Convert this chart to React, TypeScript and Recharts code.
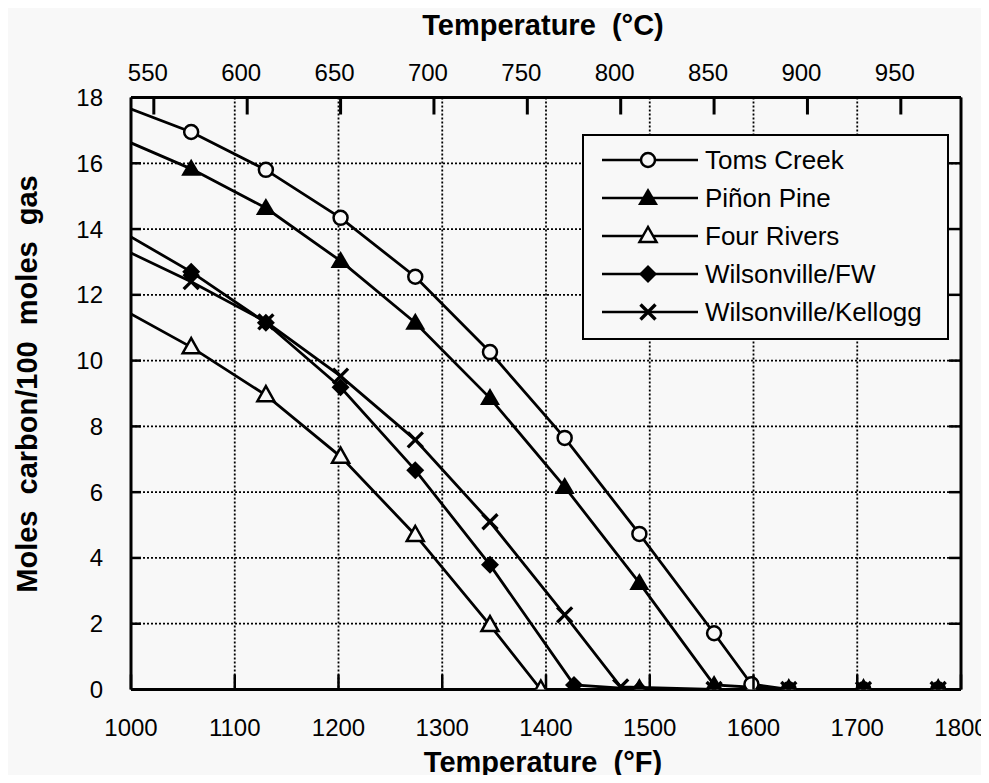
import React from "react";
import { LineChart, Line, XAxis, YAxis, CartesianGrid, Legend } from "recharts";

// axis ticks
const fahrenheitTicks = [1000, 1100, 1200, 1300, 1400, 1500, 1600, 1700, 1800];
const celsiusTicks = [550, 600, 650, 700, 750, 800, 850, 900, 950];
const carbonTicks = [0, 2, 4, 6, 8, 10, 12, 14, 16, 18];

// series: temperature (°F) and moles carbon / 100 moles gas
const tomsCreekTemps = [1000, 1058, 1130, 1202, 1274, 1346, 1418, 1490, 1562, 1598, 1634, 1706, 1778];
const tomsCreekCarbon = [17.65, 16.95, 15.8, 14.34, 12.55, 10.26, 7.65, 4.73, 1.71, 0.16, 0, 0, 0];

const pinonPineTemps = [1000, 1058, 1130, 1202, 1274, 1346, 1418, 1490, 1562, 1634, 1706, 1778];
const pinonPineCarbon = [16.62, 15.83, 14.64, 13.03, 11.15, 8.86, 6.16, 3.24, 0.14, 0, 0, 0];

const fourRiversTemps = [1000, 1058, 1130, 1202, 1274, 1346, 1395, 1490, 1562, 1634, 1706, 1778];
const fourRiversCarbon = [11.42, 10.41, 8.95, 7.08, 4.7, 1.96, 0, 0, 0, 0, 0, 0];

const wilsonvilleFwTemps = [1000, 1058, 1130, 1202, 1274, 1346, 1427, 1490, 1562, 1634, 1706, 1778];
const wilsonvilleFwCarbon = [13.76, 12.7, 11.15, 9.19, 6.67, 3.79, 0.14, 0, 0, 0, 0, 0];

const kelloggTemps = [1000, 1058, 1130, 1202, 1274, 1346, 1418, 1472, 1562, 1634, 1706, 1778];
const kelloggCarbon = [13.27, 12.4, 11.18, 9.53, 7.59, 5.1, 2.27, 0.08, 0, 0, 0, 0];

const BG = "#f8f8f8";
const FONT = "'Liberation Sans', Arial, Helvetica, sans-serif";

type Shape = "circle" | "triFilled" | "triOpen" | "diamond" | "cross";

const series: { name: string; temps: number[]; carbon: number[]; shape: Shape }[] = [
  { name: "Toms Creek", temps: tomsCreekTemps, carbon: tomsCreekCarbon, shape: "circle" },
  { name: "Piñon Pine", temps: pinonPineTemps, carbon: pinonPineCarbon, shape: "triFilled" },
  { name: "Four Rivers", temps: fourRiversTemps, carbon: fourRiversCarbon, shape: "triOpen" },
  { name: "Wilsonville/FW", temps: wilsonvilleFwTemps, carbon: wilsonvilleFwCarbon, shape: "diamond" },
  { name: "Wilsonville/Kellogg", temps: kelloggTemps, carbon: kelloggCarbon, shape: "cross" },
];

const toC = (f: number) => ((f - 32) * 5) / 9;

// the °C axis and the right frame axis need a series bound to them to draw ticks
const celsiusGuide = tomsCreekTemps.map((t, i) => ({ tempC: toC(t), carbon: tomsCreekCarbon[i] }));

function marker(shape: Shape, cx: number, cy: number, key?: string) {
  switch (shape) {
    case "circle":
      return <circle key={key} cx={cx} cy={cy} r={7} fill={BG} stroke="#000" strokeWidth={2.5} />;
    case "triFilled":
      return (
        <polygon key={key} points={`${cx},${cy - 10} ${cx - 10},${cy + 7} ${cx + 10},${cy + 7}`} fill="#000" />
      );
    case "triOpen":
      return (
        <polygon
          key={key}
          points={`${cx},${cy - 9} ${cx - 8.5},${cy + 6} ${cx + 8.5},${cy + 6}`}
          fill={BG}
          stroke="#000"
          strokeWidth={2.5}
        />
      );
    case "diamond":
      return (
        <polygon key={key} points={`${cx},${cy - 9} ${cx + 9},${cy} ${cx},${cy + 9} ${cx - 9},${cy}`} fill="#000" />
      );
    default:
      return (
        <g key={key} stroke="#000" strokeWidth={3.3}>
          <line x1={cx - 7.5} y1={cy - 7.5} x2={cx + 7.5} y2={cy + 7.5} />
          <line x1={cx - 7.5} y1={cy + 7.5} x2={cx + 7.5} y2={cy - 7.5} />
        </g>
      );
  }
}

// first point sits on the left edge of the plot and carries no marker
const dotFor = (shape: Shape, name: string) => (props: any) => {
  const { cx, cy, index } = props;
  if (index === 0 || cx == null || cy == null) return <g key={`${name}-${index}`} />;
  return marker(shape, cx, cy, `${name}-${index}`);
};

const BottomTick = (props: any) => {
  const { x, y, payload } = props;
  return (
    <g>
      <line x1={x} x2={x} y1={y} y2={y - 15} stroke="#000" strokeWidth={2.5} />
      <text x={x} y={y + 46} textAnchor="middle" fontSize={24} fontFamily={FONT} fill="#000">
        {payload.value}
      </text>
    </g>
  );
};

const TopTick = (props: any) => {
  const { x, y, payload } = props;
  return (
    <g>
      <line x1={x} x2={x} y1={y} y2={y + 17} stroke="#000" strokeWidth={3} />
      <text x={x - 6} y={y - 17} textAnchor="middle" fontSize={24} fontFamily={FONT} fill="#000">
        {Math.round(payload.value)}
      </text>
    </g>
  );
};

const LeftTick = (props: any) => {
  const { x, y, payload } = props;
  return (
    <g>
      <line x1={x} x2={x + 10} y1={y} y2={y} stroke="#000" strokeWidth={2.5} />
      <text x={x - 28} y={y + 8.5} textAnchor="end" fontSize={24} fontFamily={FONT} fill="#000">
        {payload.value}
      </text>
    </g>
  );
};

const RightTick = (props: any) => {
  const { x, y } = props;
  return <line x1={x} x2={x - 12} y1={y} y2={y} stroke="#000" strokeWidth={2.5} />;
};

const Title = ({ tx, ty, text, rotate }: { tx: number; ty: number; text: string; rotate?: boolean }) => (
  <text
    x={tx}
    y={ty}
    textAnchor="middle"
    dominantBaseline="central"
    fontSize={29}
    fontWeight="bold"
    fontFamily={FONT}
    fill="#000"
    style={{ whiteSpace: "pre" }}
    transform={rotate ? `rotate(-90, ${tx}, ${ty})` : undefined}
  >
    {text}
  </text>
);

const LegendBox = () => (
  <div
    style={{
      boxSizing: "border-box",
      width: "100%",
      height: "100%",
      border: "2.5px solid #000",
      background: BG,
      padding: "5px 0 0 18px",
    }}
  >
    {series.map((s) => (
      <div key={s.name} style={{ display: "flex", alignItems: "center", height: 38 }}>
        <svg width={96} height={30} style={{ display: "block" }}>
          <line x1={0} x2={96} y1={15} y2={15} stroke="#000" strokeWidth={2.5} />
          {marker(s.shape, 46, 15)}
        </svg>
        <span
          style={{
            marginLeft: 7,
            fontFamily: FONT,
            fontSize: 26,
            color: "#000",
            lineHeight: "30px",
            whiteSpace: "nowrap",
          }}
        >
          {s.name}
        </span>
      </div>
    ))}
  </div>
);

export default function App() {
  return (
    <div style={{ margin: -8, width: 989, height: 783, background: BG, position: "relative", overflow: "hidden" }}>
      <LineChart width={989} height={783} margin={{ top: 57.5, right: 18, bottom: 43.5, left: 71 }}>
        <CartesianGrid xAxisId="f" strokeDasharray="2 2" stroke="#000" strokeWidth={1.8} />
        <XAxis
          xAxisId="f"
          dataKey="temp"
          type="number"
          domain={[1000, 1800]}
          ticks={fahrenheitTicks}
          interval={0}
          height={50}
          tickSize={0}
          tickMargin={0}
          tickLine={false}
          tick={<BottomTick />}
          axisLine={{ stroke: "#000", strokeWidth: 3 }}
          allowDataOverflow
          label={<Title tx={543} ty={762} text="Temperature  (°F)" />}
        />
        <XAxis
          xAxisId="c"
          dataKey="tempC"
          orientation="top"
          type="number"
          domain={[toC(1000), toC(1800)]}
          ticks={celsiusTicks}
          interval={0}
          height={40}
          tickSize={0}
          tickMargin={0}
          tickLine={false}
          tick={<TopTick />}
          axisLine={{ stroke: "#000", strokeWidth: 3 }}
          allowDataOverflow
          label={<Title tx={543} ty={25} text="Temperature  (°C)" />}
        />
        <YAxis
          type="number"
          domain={[0, 18]}
          ticks={carbonTicks}
          interval={0}
          width={60}
          tickSize={0}
          tickMargin={0}
          tickLine={false}
          tick={<LeftTick />}
          axisLine={{ stroke: "#000", strokeWidth: 3 }}
          allowDataOverflow
          label={<Title tx={27} ty={384} text="Moles  carbon/100  moles  gas" rotate />}
        />
        <YAxis
          yAxisId="r"
          orientation="right"
          type="number"
          domain={[0, 18]}
          ticks={carbonTicks}
          interval={0}
          width={10}
          tickSize={0}
          tickMargin={0}
          tickLine={false}
          tick={<RightTick />}
          axisLine={{ stroke: "#000", strokeWidth: 3 }}
          allowDataOverflow
        />
        <Legend
          layout="vertical"
          align="center"
          verticalAlign="middle"
          content={<LegendBox />}
          wrapperStyle={{ position: "absolute", left: 582, top: 134, width: 367, height: 206 }}
        />
        <Line
          xAxisId="c"
          yAxisId="r"
          data={celsiusGuide}
          dataKey="carbon"
          stroke="none"
          dot={false}
          activeDot={false}
          legendType="none"
          isAnimationActive={false}
        />
        {series.map((s) => (
          <Line
            key={s.name}
            name={s.name}
            xAxisId="f"
            data={s.temps.map((t, i) => ({ temp: t, carbon: s.carbon[i] }))}
            dataKey="carbon"
            type="linear"
            stroke="#000"
            strokeWidth={2.8}
            dot={dotFor(s.shape, s.name)}
            activeDot={false}
            isAnimationActive={false}
          />
        ))}
      </LineChart>
    </div>
  );
}
